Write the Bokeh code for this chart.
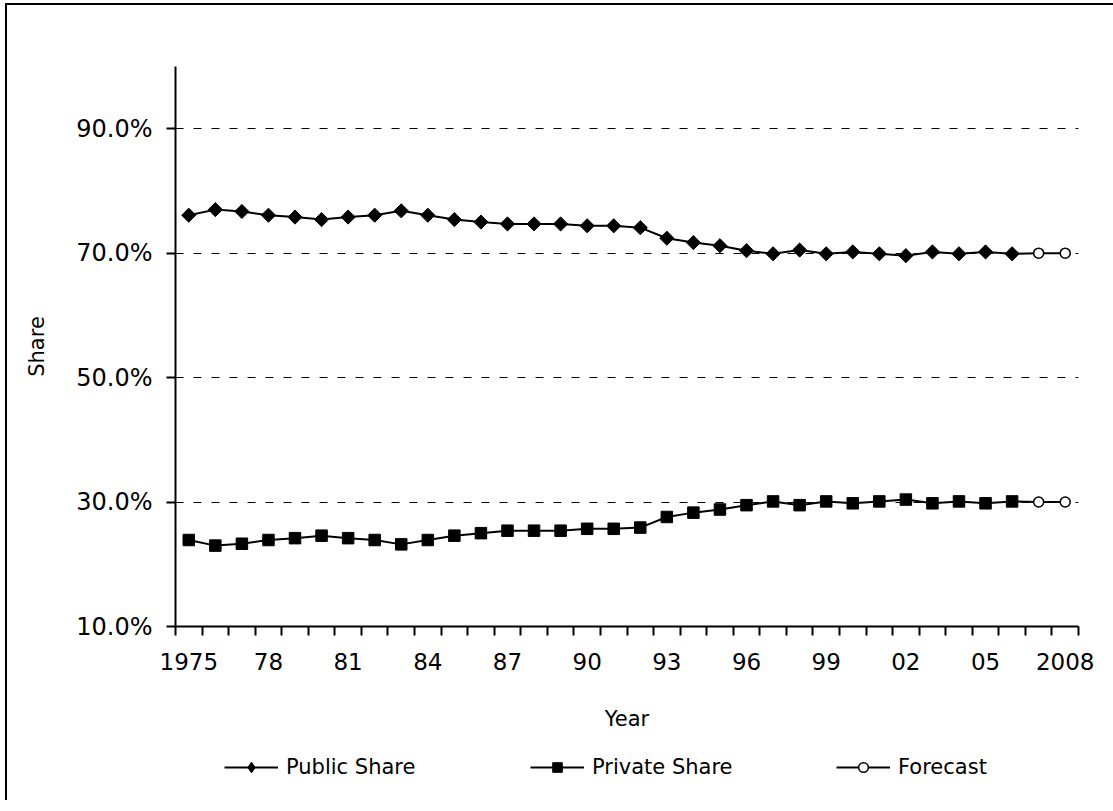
import math
from bokeh.plotting import figure
from bokeh.layouts import column
from bokeh.models import FixedTicker, PrintfTickFormatter, Legend, LegendItem
from bokeh.embed import file_html
from bokeh.resources import INLINE

# ---- data ----
hist_years = list(range(1975, 2007))
public_share = [76.1, 77.0, 76.7, 76.1, 75.8, 75.4, 75.8, 76.1, 76.8, 76.1, 75.4, 75.0,
                74.7, 74.7, 74.7, 74.4, 74.4, 74.1, 72.4, 71.7, 71.2, 70.4, 69.9, 70.5,
                69.9, 70.2, 69.9, 69.6, 70.2, 69.9, 70.2, 69.9]
private_share = [23.9, 23.0, 23.3, 23.9, 24.2, 24.6, 24.2, 23.9, 23.2, 23.9, 24.6, 25.0,
                 25.4, 25.4, 25.4, 25.7, 25.7, 25.9, 27.6, 28.3, 28.8, 29.5, 30.1, 29.5,
                 30.1, 29.8, 30.1, 30.4, 29.8, 30.1, 29.8, 30.1]
forecast_years = [2007, 2008]
forecast_public = [70.0, 70.0]
forecast_private = [30.0, 30.0]

y_ticks = [10, 30, 50, 70, 90]
grid_ticks = [30, 50, 70, 90]
x_label_years = [1975, 1978, 1981, 1984, 1987, 1990, 1993, 1996, 1999, 2002, 2005, 2008]
x_tick_labels = ["1975", "78", "81", "84", "87", "90", "93", "96", "99", "02", "05", "2008"]
legend_labels = ["Public Share", "Private Share", "Forecast"]

FONT = "DejaVu Sans"
W = 1106

p = figure(frame_width=903, frame_height=560, width=W, height=735,
           min_border_left=168, min_border_top=61, min_border_right=W - 168 - 903,
           min_border_bottom=114,
           x_range=(1974.5, 2008.5), y_range=(10, 100),
           output_backend="svg", toolbar_location=None, tools="")
p.outline_line_color = None
p.background_fill_color = None
p.border_fill_color = None

# axes
xa = p.xaxis[0]
xa.ticker = FixedTicker(ticks=x_label_years,
                        minor_ticks=[y - 0.5 for y in range(1975, 2010)])
xa.major_label_overrides = {yr: lab for yr, lab in zip(x_label_years, x_tick_labels)}
xa.major_tick_out = 0
xa.major_tick_in = 0
xa.minor_tick_out = 9
xa.minor_tick_in = 0
xa.minor_tick_line_width = 2
xa.minor_tick_line_color = "black"
xa.axis_line_width = 2
xa.axis_line_color = "black"
xa.major_label_standoff = 17
xa.major_label_text_font = FONT
xa.major_label_text_font_size = "23px"
xa.major_label_text_color = "black"
xa.axis_label = "Year"
xa.axis_label_text_font = FONT
xa.axis_label_text_font_size = "21px"
xa.axis_label_text_font_style = "normal"
xa.axis_label_text_color = "black"
xa.axis_label_standoff = 34

ya = p.yaxis[0]
ya.ticker = FixedTicker(ticks=y_ticks, minor_ticks=[])
ya.formatter = PrintfTickFormatter(format="%.1f%%")
ya.major_tick_out = 9
ya.major_tick_in = 0
ya.major_tick_line_width = 2
ya.major_tick_line_color = "black"
ya.axis_line_width = 2
ya.axis_line_color = "black"
ya.major_label_standoff = 14
ya.major_label_text_font = FONT
ya.major_label_text_font_size = "24px"
ya.major_label_text_color = "black"
ya.axis_label = "Share"
ya.axis_label_text_font = FONT
ya.axis_label_text_font_size = "21px"
ya.axis_label_text_font_style = "normal"
ya.axis_label_text_color = "black"
ya.axis_label_standoff = 24

p.xgrid.visible = False
p.ygrid.ticker = FixedTicker(ticks=grid_ticks)
p.ygrid.grid_line_color = "black"
p.ygrid.grid_line_width = 1
p.ygrid.grid_line_dash = "8 10"

# series
line_kw = dict(line_color="black", line_width=2)
diamond_kw = dict(marker="square", angle=math.pi / 4, size=10, fill_color="black",
                  line_color="black", line_width=1)
square_kw = dict(marker="square", size=11.5, fill_color="black", line_color="black", line_width=1)
circle_kw = dict(marker="circle", size=10, fill_color="white", line_color="black", line_width=1.5)

fc_x = [hist_years[-1]] + forecast_years
fc_pub = [public_share[-1]] + forecast_public
fc_priv = [private_share[-1]] + forecast_private

p.line(hist_years, public_share, **line_kw)
p.line(hist_years, private_share, **line_kw)
p.line(fc_x, fc_pub, **line_kw)
p.line(fc_x, fc_priv, **line_kw)
p.scatter(hist_years, public_share, **diamond_kw)
p.scatter(hist_years, private_share, **square_kw)
p.scatter(forecast_years, forecast_public, **circle_kw)
p.scatter(forecast_years, forecast_private, **circle_kw)

# legend strip (separate figure so the legend is not clipped); its renderers
# hold the same series but lie outside this strip's ranges, so only legend glyphs show
lf = figure(frame_width=W, frame_height=60, width=W, height=60,
            min_border=0, x_range=(0, 1), y_range=(0, 1),
            x_axis_type=None, y_axis_type=None,
            output_backend="svg", toolbar_location=None, tools="")
lf.outline_line_color = None
lf.grid.visible = False
lf.background_fill_color = None
lf.border_fill_color = None

series_for_legend = [
    (hist_years, public_share, dict(marker="diamond", fill_color="black", line_color="black",
                                     line_width=1.5)),
    (hist_years, private_share, dict(square_kw)),
    (forecast_years, forecast_public, dict(circle_kw)),
]
items = []
for label, (xs, ys, mk) in zip(legend_labels, series_for_legend):
    rl = lf.line(xs, ys, **line_kw)
    rs = lf.scatter(xs, ys, **mk)
    items.append(LegendItem(label=label, renderers=[rl, rs]))

legend = Legend(items=items, location=(217, 21), orientation="horizontal",
                glyph_width=54, glyph_height=24, label_height=24, label_width=150,
                label_standoff=8, padding=0, margin=0, spacing=94,
                border_line_color=None, background_fill_alpha=0,
                label_text_font=FONT, label_text_font_size="21px",
                label_text_color="black")
lf.add_layout(legend, "center")

layout = column(p, lf, spacing=0)
layout.styles = {"border-left": "2px solid black", "border-top": "2px solid black",
                 "margin-left": "5px", "margin-top": "3px"}

open("out.html", "w").write(file_html(layout, INLINE))
